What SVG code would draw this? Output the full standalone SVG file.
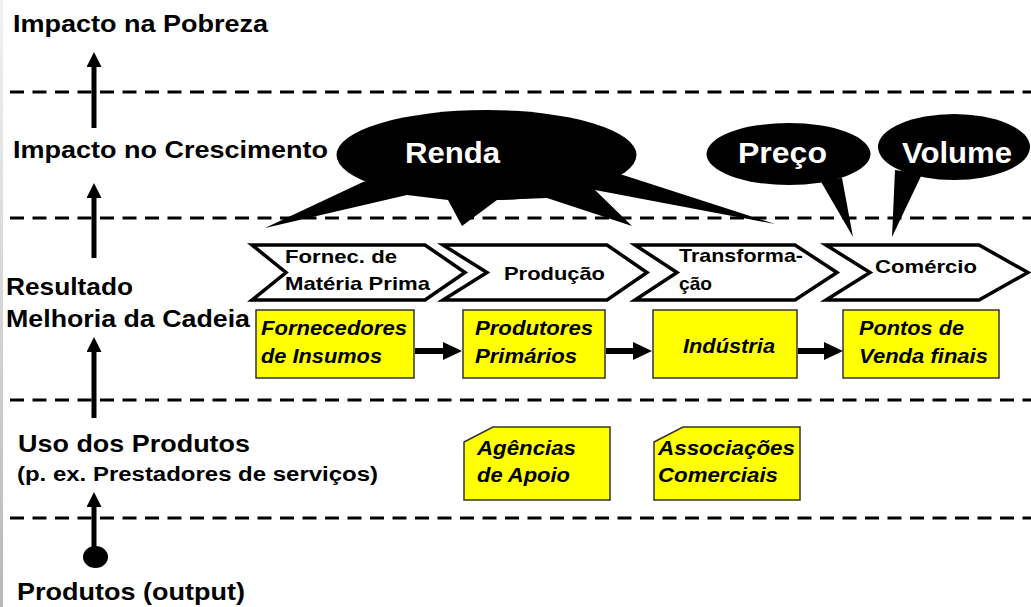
<svg xmlns="http://www.w3.org/2000/svg" width="1031" height="607" viewBox="0 0 1031 607">
  <defs>
    <style>
      .lbl { font-family: "Liberation Sans", Arial, sans-serif; font-weight: bold; font-size: 24px; fill: #000; }
      .sub { font-family: "Liberation Sans", Arial, sans-serif; font-weight: bold; font-size: 19.5px; fill: #000; }
      .chev { fill: #fff; stroke: #000; stroke-width: 3.5; stroke-linejoin: miter; }
      .chevt { font-family: "Liberation Sans", Arial, sans-serif; font-weight: bold; font-size: 19px; fill: #000; }
      .box { fill: #ffff00; stroke: #333; stroke-width: 1.5; }
      .boxt { font-family: "Liberation Sans", Arial, sans-serif; font-weight: bold; font-style: italic; font-size: 20px; fill: #000; }
      .bub { fill: #000; stroke: none; }
      .bubt { font-family: "Liberation Sans", Arial, sans-serif; font-weight: bold; font-size: 29px; fill: #fff; }
      .dash { stroke: #000; stroke-width: 3; stroke-dasharray: 14 8.5; fill: none; }
      .vshaft { stroke: #000; stroke-width: 5; fill: none; }
      .hshaft { stroke: #000; stroke-width: 6; fill: none; }
    </style>
    <marker id="vhead" markerUnits="userSpaceOnUse" markerWidth="15" markerHeight="15" refX="0" refY="7.5" orient="auto">
      <path d="M0,0 L15,7.5 L0,15 z" fill="#000"/>
    </marker>
    <marker id="hhead" markerUnits="userSpaceOnUse" markerWidth="19" markerHeight="18" refX="0" refY="9" orient="auto">
      <path d="M0,0 L19,9 L0,18 z" fill="#000"/>
    </marker>
    <linearGradient id="edge" x1="0" y1="0" x2="0" y2="1">
      <stop offset="0" stop-color="#f2f2f2"/>
      <stop offset="1" stop-color="#b8b8b8"/>
    </linearGradient>
  </defs>

  <rect x="0" y="0" width="1031" height="607" fill="#fff"/>
  <rect x="0" y="0" width="3" height="607" fill="url(#edge)"/>

  <g id="guides">
    <line class="dash" x1="10" y1="92" x2="1031" y2="92"/>
    <line class="dash" x1="10" y1="218" x2="1031" y2="218"/>
    <line class="dash" x1="10" y1="400" x2="1031" y2="400"/>
    <line class="dash" x1="10" y1="518" x2="1031" y2="518"/>
  </g>

  <g id="levels">
    <text class="lbl" x="13" y="32" textLength="255" lengthAdjust="spacingAndGlyphs">Impacto na Pobreza</text>
    <text class="lbl" x="13" y="158" textLength="315" lengthAdjust="spacingAndGlyphs">Impacto no Crescimento</text>
    <text class="lbl" x="6" y="295" textLength="127" lengthAdjust="spacingAndGlyphs">Resultado</text>
    <text class="lbl" x="6" y="327" textLength="244" lengthAdjust="spacingAndGlyphs">Melhoria da Cadeia</text>
    <text class="lbl" x="18" y="452" textLength="232" lengthAdjust="spacingAndGlyphs">Uso dos Produtos</text>
    <text class="sub" x="17" y="481" textLength="361" lengthAdjust="spacingAndGlyphs">(p. ex. Prestadores de serviços)</text>
    <text class="lbl" x="17" y="600" textLength="228" lengthAdjust="spacingAndGlyphs">Produtos (output)</text>
  </g>

  <g id="bubble-renda">
    <ellipse class="bub" cx="486.5" cy="155" rx="150" ry="45"/>
    <polygon class="bub" points="363,182 265,228 407,195 448,200 462,226 497,200 547,198 632,226 595,190 775,224 623,175 486,150"/>
    <text class="bubt" x="405" y="163" textLength="95" lengthAdjust="spacingAndGlyphs">Renda</text>
  </g>

  <g id="bubble-preco">
    <ellipse class="bub" cx="788.5" cy="154" rx="82" ry="31"/>
    <polygon class="bub" points="820,180 853,237 842,178"/>
    <text class="bubt" x="738" y="163" textLength="89" lengthAdjust="spacingAndGlyphs">Preço</text>
  </g>

  <g id="bubble-volume">
    <ellipse class="bub" cx="954" cy="147" rx="76" ry="33"/>
    <polygon class="bub" points="895,170 892,237 922,174"/>
    <text class="bubt" x="902" y="163" textLength="110" lengthAdjust="spacingAndGlyphs">Volume</text>
  </g>

  <g id="chevron-fornec">
    <polygon class="chev" points="252,245 425,245 465,272.5 425,300 252,300 286,272.5"/>
    <text class="chevt" x="285" y="263" textLength="112" lengthAdjust="spacingAndGlyphs">Fornec. de</text>
    <text class="chevt" x="285" y="290" textLength="145" lengthAdjust="spacingAndGlyphs">Matéria Prima</text>
  </g>
  <g id="chevron-producao">
    <polygon class="chev" points="443,245 607,245 647,272.5 607,300 443,300 487,272.5"/>
    <text class="chevt" x="504" y="280" textLength="101" lengthAdjust="spacingAndGlyphs">Produção</text>
  </g>
  <g id="chevron-transformacao">
    <polygon class="chev" points="635,245 795,245 837,272.5 795,300 635,300 677,272.5"/>
    <text class="chevt" x="679" y="262" textLength="124" lengthAdjust="spacingAndGlyphs">Transforma-</text>
    <text class="chevt" x="679" y="290" textLength="33" lengthAdjust="spacingAndGlyphs">ção</text>
  </g>
  <g id="chevron-comercio">
    <polygon class="chev" points="826,245 979,245 1028,272.5 979,300 826,300 870,272.5"/>
    <text class="chevt" x="875" y="273" textLength="102" lengthAdjust="spacingAndGlyphs">Comércio</text>
  </g>

  <g id="box-fornecedores">
    <rect class="box" x="256" y="310" width="158" height="68"/>
    <text class="boxt" x="261" y="335" textLength="146" lengthAdjust="spacingAndGlyphs">Fornecedores</text>
    <text class="boxt" x="261" y="363" textLength="121" lengthAdjust="spacingAndGlyphs">de Insumos</text>
  </g>
  <g id="box-produtores">
    <rect class="box" x="463" y="310" width="142" height="68"/>
    <text class="boxt" x="475" y="335" textLength="118" lengthAdjust="spacingAndGlyphs">Produtores</text>
    <text class="boxt" x="475" y="363" textLength="102" lengthAdjust="spacingAndGlyphs">Primários</text>
  </g>
  <g id="box-industria">
    <rect class="box" x="653" y="310" width="144" height="68"/>
    <text class="boxt" x="683" y="353" textLength="92" lengthAdjust="spacingAndGlyphs">Indústria</text>
  </g>
  <g id="box-pontos">
    <rect class="box" x="843" y="310" width="156" height="68"/>
    <text class="boxt" x="859" y="335" textLength="105" lengthAdjust="spacingAndGlyphs">Pontos de</text>
    <text class="boxt" x="859" y="363" textLength="129" lengthAdjust="spacingAndGlyphs">Venda finais</text>
  </g>

  <g id="box-agencias">
    <polygon class="box" points="464,442 493,427 610,427 610,500 464,500"/>
    <text class="boxt" x="477" y="455" textLength="99" lengthAdjust="spacingAndGlyphs">Agências</text>
    <text class="boxt" x="477" y="482" textLength="93" lengthAdjust="spacingAndGlyphs">de Apoio</text>
  </g>
  <g id="box-associacoes">
    <polygon class="box" points="654,442 683,427 800,427 800,500 654,500"/>
    <text class="boxt" x="658" y="455" textLength="137" lengthAdjust="spacingAndGlyphs">Associações</text>
    <text class="boxt" x="658" y="482" textLength="120" lengthAdjust="spacingAndGlyphs">Comerciais</text>
  </g>

  <g id="connectors">
    <line class="vshaft" x1="94" y1="128" x2="94" y2="67" marker-end="url(#vhead)"/>
    <line class="vshaft" x1="94" y1="258" x2="94" y2="198" marker-end="url(#vhead)"/>
    <line class="vshaft" x1="94" y1="418" x2="94" y2="352" marker-end="url(#vhead)"/>
    <line class="vshaft" x1="94" y1="557" x2="94" y2="507" marker-end="url(#vhead)"/>
    <ellipse cx="95.5" cy="557" rx="12.5" ry="11" fill="#000"/>
    <line class="hshaft" x1="415" y1="351" x2="443" y2="351" marker-end="url(#hhead)"/>
    <line class="hshaft" x1="606" y1="351" x2="633" y2="351" marker-end="url(#hhead)"/>
    <line class="hshaft" x1="798" y1="351" x2="824" y2="351" marker-end="url(#hhead)"/>
  </g>
</svg>
